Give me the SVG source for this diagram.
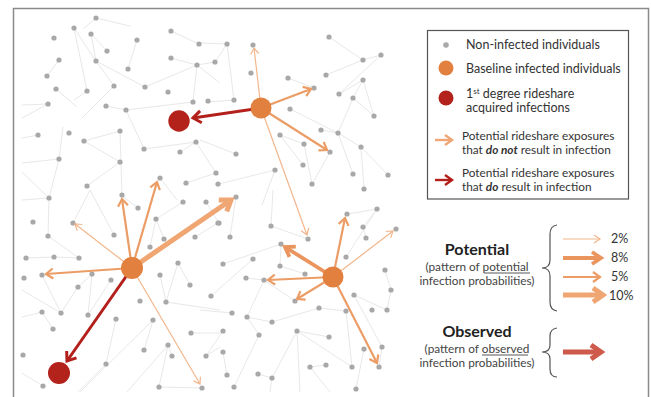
<svg xmlns="http://www.w3.org/2000/svg" width="651" height="397" viewBox="0 0 651 397">
<style>
text{font-family:Lato,"Open Sans","Liberation Sans",sans-serif;fill:#333}
.edge{stroke:#e8e8e8;stroke-width:1;fill:none}
.dot{fill:#a8a8a8}
.a2{stroke:#f3b68c;stroke-width:1.2;fill:none;marker-end:url(#m2)}
.a5{stroke:#ec9c65;stroke-width:2.2;fill:none;marker-end:url(#m5)}
.a8{stroke:#ea955e;stroke-width:3.8;fill:none;marker-end:url(#m8)}
.a10{stroke:#efa672;stroke-width:5;fill:none;marker-end:url(#m10)}
.ar{stroke:#b31f1a;stroke-width:3;fill:none;marker-end:url(#mr)}
.ao{stroke:#cd5a4a;stroke-width:5;fill:none;marker-end:url(#mo)}
.orange{fill:#e2813f}
.red{fill:#b3221b}
.brace{stroke:#555;stroke-width:1.2;fill:none}
.lg{font-size:12.5px}
.ls{font-size:11.8px}
.pc{font-size:12.5px}
.hd{font-size:16px;font-weight:bold;fill:#222}
.sub{font-size:11.8px;fill:#444}
.ul{stroke:#444;stroke-width:0.9}
</style>
<defs>
<marker id="m2" markerUnits="userSpaceOnUse" viewBox="-20 -20 40 40" markerWidth="40" markerHeight="40" refX="0" refY="0" orient="auto"><path d="M-6,-4 L0,0 L-6,4" stroke="#f3b68c" stroke-width="1.2" fill="none"/></marker>
<marker id="m5" markerUnits="userSpaceOnUse" viewBox="-20 -20 40 40" markerWidth="40" markerHeight="40" refX="0" refY="0" orient="auto"><path d="M-7,-5 L0,0 L-7,5" stroke="#ec9c65" stroke-width="2.2" fill="none"/></marker>
<marker id="m8" markerUnits="userSpaceOnUse" viewBox="-20 -20 40 40" markerWidth="40" markerHeight="40" refX="0" refY="0" orient="auto"><path d="M-9,-6 L0,0 L-9,6" stroke="#ea955e" stroke-width="3.8" fill="none"/></marker>
<marker id="m10" markerUnits="userSpaceOnUse" viewBox="-20 -20 40 40" markerWidth="40" markerHeight="40" refX="0" refY="0" orient="auto"><path d="M-10,-7 L0,0 L-10,7" stroke="#efa672" stroke-width="5" fill="none"/></marker>
<marker id="mr" markerUnits="userSpaceOnUse" viewBox="-20 -20 40 40" markerWidth="40" markerHeight="40" refX="0" refY="0" orient="auto"><path d="M-8,-6 L0,0 L-8,6" stroke="#b31f1a" stroke-width="3" fill="none"/></marker>
<marker id="mo" markerUnits="userSpaceOnUse" viewBox="-20 -20 40 40" markerWidth="40" markerHeight="40" refX="0" refY="0" orient="auto"><path d="M-10,-7 L0,0 L-10,7" stroke="#cd5a4a" stroke-width="5" fill="none"/></marker>
</defs>
<rect width="651" height="397" fill="#fff"/>
<path d="M13.5,397 L13.5,8.5 L648.5,8.5 L648.5,397" stroke="#8a8a8a" stroke-width="1.5" fill="none"/>

<g id="network-edges">
<path class="edge" d="M96,18 L130,26 M83,29 L96,18 M74,28 L87,91 M74,28 L96,61 M91,34 L96,61 M91,34 L107,51 M137,40 L128,69 M171,31 L199,44 M171,58 L197,65 M197,65 L215,62 M59,60 L47,76 M96,61 L145,87 M96,61 L114,86 M145,87 L197,65 M197,65 L193,102 M197,65 L220,83 M56,89 L77,107 M87,91 L74,100 M114,86 L82,118 M48,104 L22,105 M48,104 L22,118 M106,106 L126,110 M126,110 L193,102 M126,110 L144,149 M38,135 L22,138 M63,127 L59,159 M84,141 L120,131 M84,141 L120,162 M120,131 L122,195 M144,149 L196,142 M180,152 L196,142 M196,142 L216,173 M59,159 L22,163 M59,159 L49,198 M120,162 L87,186 M186,183 L216,173 M22,172 L49,198 M160,178 L177,200"/>
<path class="edge" d="M200,43 L227,44 M227,44 L215,62 M227,44 L234,100 M208,102 L234,100 M288,78 L314,88 M329,37 L363,60 M363,60 L326,75 M363,60 L381,55 M381,55 L339,94 M363,80 L339,94 M363,80 L374,116 M363,80 L353,98 M353,98 L374,116 M353,98 L338,133 M290,109 L338,133 M321,130 L338,133 M338,133 L361,147 M361,147 L388,175 M361,147 L364,189 M280,135 L304,144 M280,135 L303,165 M304,144 L312,184 M330,152 L312,184 M338,133 L353,174 M200,140 L236,154 M275,170 L219,184 M275,170 L262,205"/>
<path class="edge" d="M22,200 L49,198 M49,198 L48,236 M122,196 L138,208 M73,223 L90,190 M90,190 L114,235 M48,236 L79,258 M26,258 L54,257 M54,257 L79,258 M42,275 L61,313 M22,290 L61,313 M92,274 L78,287 M78,287 L61,313 M92,274 L88,315 M111,280 L88,315 M156,219 L164,239 M156,219 L183,202 M156,219 L150,247 M195,237 L218,223 M178,263 L190,285 M178,263 L166,302 M160,275 L166,302 M166,302 L220,310 M42,312 L22,317 M42,312 L53,329 M116,319 L106,364 M153,320 L144,350 M153,320 L80,392 M191,333 L220,333 M168,345 L172,356 M168,345 L159,387 M168,345 L127,392 M159,387 L202,388 M22,373 L43,386 M106,364 L78,392 M206,356 L220,347"/>
<path class="edge" d="M236,197 L230,237 M206,202 L219,223 M271,226 L308,239 M271,226 L273,190 M281,244 L223,264 M281,244 L280,266 M280,266 L305,274 M253,259 L211,296 M246,278 L264,280 M264,280 L295,301 M264,280 L247,317 M377,209 L347,214 M377,209 L363,227 M377,209 L346,257 M363,227 L366,238 M385,270 L391,290 M387,310 L391,290 M354,295 L387,310 M354,295 L382,347 M319,308 L346,311 M319,308 L272,322 M272,322 L247,317 M247,317 L259,335 M259,335 L234,387 M232,313 L200,310 M223,331 L206,356 M297,331 L329,337 M297,331 L352,367 M297,331 L300,392 M297,331 L272,378 M326,365 L310,367 M223,352 L227,375 M258,374 L272,378 M346,311 L352,367 M364,349 L356,389 M382,347 L379,367 M310,367 L330,392 M272,378 L270,392"/>
</g>

<g id="non-infected-individuals">
<g class="dot">
<circle cx="96" cy="18" r="2.6"/><circle cx="74" cy="28" r="2.6"/><circle cx="54" cy="38" r="2.6"/><circle cx="91" cy="34" r="2.6"/><circle cx="107" cy="51" r="2.6"/><circle cx="137" cy="40" r="2.6"/><circle cx="171" cy="31" r="2.6"/><circle cx="199" cy="44" r="2.6"/><circle cx="171" cy="58" r="2.6"/><circle cx="197" cy="65" r="2.6"/><circle cx="215" cy="62" r="2.6"/><circle cx="59" cy="60" r="2.6"/><circle cx="47" cy="76" r="2.6"/><circle cx="96" cy="61" r="2.6"/><circle cx="128" cy="69" r="2.6"/><circle cx="56" cy="89" r="2.6"/><circle cx="87" cy="91" r="2.6"/><circle cx="114" cy="86" r="2.6"/><circle cx="145" cy="87" r="2.6"/><circle cx="168" cy="92" r="2.6"/><circle cx="193" cy="102" r="2.6"/><circle cx="208" cy="101" r="2.6"/><circle cx="48" cy="104" r="2.6"/><circle cx="106" cy="106" r="2.6"/><circle cx="126" cy="110" r="2.6"/><circle cx="38" cy="135" r="2.6"/><circle cx="69" cy="133" r="2.6"/><circle cx="84" cy="141" r="2.6"/><circle cx="120" cy="131" r="2.6"/><circle cx="144" cy="149" r="2.6"/><circle cx="180" cy="152" r="2.6"/><circle cx="196" cy="142" r="2.6"/><circle cx="59" cy="159" r="2.6"/><circle cx="120" cy="162" r="2.6"/><circle cx="160" cy="178" r="2.6"/><circle cx="186" cy="183" r="2.6"/><circle cx="216" cy="173" r="2.6"/><circle cx="218" cy="184" r="2.6"/><circle cx="87" cy="186" r="2.6"/><circle cx="49" cy="198" r="2.6"/><circle cx="122" cy="195" r="2.6"/>
<circle cx="227" cy="44" r="2.6"/><circle cx="253" cy="45" r="2.6"/><circle cx="251" cy="73" r="2.6"/><circle cx="234" cy="100" r="2.6"/><circle cx="288" cy="78" r="2.6"/><circle cx="314" cy="88" r="2.6"/><circle cx="329" cy="37" r="2.6"/><circle cx="363" cy="60" r="2.6"/><circle cx="381" cy="55" r="2.6"/><circle cx="326" cy="75" r="2.6"/><circle cx="363" cy="80" r="2.6"/><circle cx="339" cy="94" r="2.6"/><circle cx="353" cy="98" r="2.6"/><circle cx="374" cy="116" r="2.6"/><circle cx="290" cy="109" r="2.6"/><circle cx="321" cy="130" r="2.6"/><circle cx="338" cy="133" r="2.6"/><circle cx="361" cy="147" r="2.6"/><circle cx="280" cy="135" r="2.6"/><circle cx="304" cy="144" r="2.6"/><circle cx="330" cy="152" r="2.6"/><circle cx="236" cy="154" r="2.6"/><circle cx="303" cy="165" r="2.6"/><circle cx="312" cy="184" r="2.6"/><circle cx="353" cy="174" r="2.6"/><circle cx="388" cy="175" r="2.6"/><circle cx="364" cy="189" r="2.6"/><circle cx="275" cy="170" r="2.6"/><circle cx="236" cy="197" r="2.6"/>
<circle cx="33" cy="222" r="2.6"/><circle cx="138" cy="208" r="2.6"/><circle cx="73" cy="223" r="2.6"/><circle cx="114" cy="235" r="2.6"/><circle cx="48" cy="236" r="2.6"/><circle cx="156" cy="219" r="2.6"/><circle cx="164" cy="239" r="2.6"/><circle cx="150" cy="247" r="2.6"/><circle cx="183" cy="202" r="2.6"/><circle cx="206" cy="202" r="2.6"/><circle cx="195" cy="237" r="2.6"/><circle cx="218" cy="223" r="2.6"/><circle cx="26" cy="258" r="2.6"/><circle cx="54" cy="257" r="2.6"/><circle cx="79" cy="258" r="2.6"/><circle cx="24" cy="278" r="2.6"/><circle cx="42" cy="275" r="2.6"/><circle cx="92" cy="274" r="2.6"/><circle cx="111" cy="280" r="2.6"/><circle cx="78" cy="287" r="2.6"/><circle cx="178" cy="263" r="2.6"/><circle cx="160" cy="275" r="2.6"/><circle cx="190" cy="285" r="2.6"/><circle cx="211" cy="296" r="2.6"/><circle cx="140" cy="301" r="2.6"/><circle cx="166" cy="302" r="2.6"/><circle cx="42" cy="312" r="2.6"/><circle cx="61" cy="313" r="2.6"/><circle cx="88" cy="315" r="2.6"/><circle cx="53" cy="329" r="2.6"/><circle cx="116" cy="319" r="2.6"/><circle cx="153" cy="320" r="2.6"/><circle cx="191" cy="333" r="2.6"/><circle cx="168" cy="345" r="2.6"/><circle cx="144" cy="350" r="2.6"/><circle cx="172" cy="356" r="2.6"/><circle cx="206" cy="356" r="2.6"/><circle cx="23" cy="355" r="2.6"/><circle cx="106" cy="364" r="2.6"/><circle cx="43" cy="386" r="2.6"/><circle cx="159" cy="387" r="2.6"/><circle cx="202" cy="388" r="2.6"/>
<circle cx="219" cy="223" r="2.6"/><circle cx="230" cy="237" r="2.6"/><circle cx="271" cy="226" r="2.6"/><circle cx="308" cy="239" r="2.6"/><circle cx="281" cy="244" r="2.6"/><circle cx="253" cy="259" r="2.6"/><circle cx="223" cy="264" r="2.6"/><circle cx="280" cy="266" r="2.6"/><circle cx="305" cy="274" r="2.6"/><circle cx="246" cy="278" r="2.6"/><circle cx="264" cy="280" r="2.6"/><circle cx="295" cy="301" r="2.6"/><circle cx="347" cy="214" r="2.6"/><circle cx="377" cy="209" r="2.6"/><circle cx="363" cy="227" r="2.6"/><circle cx="366" cy="238" r="2.6"/><circle cx="346" cy="257" r="2.6"/><circle cx="396" cy="229" r="2.6"/><circle cx="385" cy="270" r="2.6"/><circle cx="391" cy="290" r="2.6"/><circle cx="354" cy="295" r="2.6"/><circle cx="372" cy="310" r="2.6"/><circle cx="387" cy="310" r="2.6"/><circle cx="346" cy="311" r="2.6"/><circle cx="319" cy="308" r="2.6"/><circle cx="232" cy="313" r="2.6"/><circle cx="247" cy="317" r="2.6"/><circle cx="272" cy="322" r="2.6"/><circle cx="223" cy="331" r="2.6"/><circle cx="259" cy="335" r="2.6"/><circle cx="297" cy="331" r="2.6"/><circle cx="329" cy="337" r="2.6"/><circle cx="382" cy="347" r="2.6"/><circle cx="364" cy="349" r="2.6"/><circle cx="223" cy="352" r="2.6"/><circle cx="352" cy="367" r="2.6"/><circle cx="326" cy="365" r="2.6"/><circle cx="310" cy="367" r="2.6"/><circle cx="379" cy="367" r="2.6"/><circle cx="227" cy="375" r="2.6"/><circle cx="258" cy="374" r="2.6"/><circle cx="272" cy="378" r="2.6"/><circle cx="234" cy="387" r="2.6"/><circle cx="356" cy="389" r="2.6"/>
</g>
</g>

<g id="exposure-arrows">
<line class="a2" x1="261" y1="108" x2="254" y2="48"/>
<line class="a5" x1="261" y1="108" x2="311" y2="89"/>
<line class="a5" x1="261" y1="108" x2="327" y2="150"/>
<line class="a2" x1="261" y1="108" x2="307" y2="235"/>
<line class="ar" x1="261" y1="108" x2="193" y2="118"/>
<line class="a5" x1="132" y1="268" x2="122" y2="199"/>
<line class="a5" x1="132" y1="268" x2="157" y2="182"/>
<line class="a10" x1="132" y1="268" x2="231" y2="200"/>
<line class="a2" x1="132" y1="268" x2="75" y2="224"/>
<line class="a5" x1="132" y1="268" x2="46" y2="274"/>
<line class="ar" x1="132" y1="268" x2="67" y2="361"/>
<line class="a2" x1="132" y1="268" x2="200" y2="384"/>
<line class="a8" x1="333" y1="277" x2="285" y2="247"/>
<line class="a5" x1="333" y1="277" x2="268" y2="280"/>
<line class="a5" x1="333" y1="277" x2="297" y2="299"/>
<line class="a5" x1="333" y1="277" x2="345" y2="218"/>
<line class="a2" x1="333" y1="277" x2="393" y2="231"/>
<line class="a5" x1="333" y1="277" x2="377" y2="363"/>
</g>

<g id="baseline-node-top"><circle class="orange" cx="261" cy="108" r="10.5"/></g>
<g id="baseline-node-left"><circle class="orange" cx="132" cy="268" r="11"/></g>
<g id="baseline-node-right"><circle class="orange" cx="333" cy="277" r="10.5"/></g>
<g id="infected-node-top"><circle class="red" cx="179" cy="121" r="10.7"/></g>
<g id="infected-node-bottom"><circle class="red" cx="59" cy="373" r="11"/></g>

<g id="legend">
<rect x="427.5" y="30.5" width="201" height="168.5" fill="#fff" stroke="#555" stroke-width="1.2"/>
<g id="legend-non-infected"><circle class="dot" cx="446" cy="45" r="2.8"/><text class="lg" x="466" y="49">Non-infected individuals</text></g>
<g id="legend-baseline"><circle class="orange" cx="446" cy="68" r="7.5"/><text class="lg" x="466" y="73">Baseline infected individuals</text></g>
<g id="legend-acquired"><circle class="red" cx="446" cy="98" r="7.5"/><text class="lg" x="466" y="98">1<tspan dy="-4.5" font-size="8">st</tspan><tspan dy="4.5"> degree rideshare</tspan></text><text class="lg" x="466" y="112">acquired infections</text></g>
<g id="legend-no-infection"><line x1="435" y1="140" x2="452" y2="140" stroke="#f0a777" stroke-width="2.4"/><path d="M445,135 L452,140 L445,145" fill="none" stroke="#f0a777" stroke-width="2.4"/><text class="ls" x="462" y="140">Potential rideshare exposures</text><text class="ls" x="462" y="154">that <tspan font-weight="bold" font-style="italic">do not</tspan> result in infection</text></g>
<g id="legend-infection"><line x1="435" y1="180" x2="452" y2="180" stroke="#b31f1a" stroke-width="2.4"/><path d="M445,175 L452,180 L445,185" fill="none" stroke="#b31f1a" stroke-width="2.4"/><text class="ls" x="462" y="177">Potential rideshare exposures</text><text class="ls" x="462" y="191">that <tspan font-weight="bold" font-style="italic">do</tspan> result in infection</text></g>
</g>

<g id="potential-key">
<text class="hd" x="477" y="254.5" text-anchor="middle">Potential</text>
<text class="sub" x="477" y="270.5" text-anchor="middle">(pattern of potential</text>
<line class="ul" x1="484" y1="273" x2="530" y2="273"/>
<text class="sub" x="477" y="284.5" text-anchor="middle">infection probabilities)</text>
<path class="brace" d="M557,225 Q550,226 550,234 L550,260 Q550,268 542,268 Q550,268 550,276 L550,302 Q550,310 557,311"/>
<line class="a2" x1="563" y1="239" x2="600" y2="239"/>
<line class="a8" x1="563" y1="258" x2="601" y2="258"/>
<line class="a5" x1="563" y1="277" x2="600" y2="277"/>
<line class="a10" x1="563" y1="295" x2="603" y2="295"/>
<text class="pc" x="611" y="243">2%</text>
<text class="pc" x="611" y="262">8%</text>
<text class="pc" x="611" y="281">5%</text>
<text class="pc" x="609" y="300">10%</text>
</g>

<g id="observed-key">
<text class="hd" x="477" y="337" text-anchor="middle">Observed</text>
<text class="sub" x="477" y="352.5" text-anchor="middle">(pattern of observed</text>
<line class="ul" x1="482" y1="355" x2="528" y2="355"/>
<text class="sub" x="477" y="366.5" text-anchor="middle">infection probabilities)</text>
<path class="brace" d="M557,328 Q550,329 550,336 L550,345 Q550,352 542,352 Q550,352 550,359 L550,369 Q550,377 557,377"/>
<line class="ao" x1="563" y1="352" x2="601" y2="352"/>
</g>
</svg>
